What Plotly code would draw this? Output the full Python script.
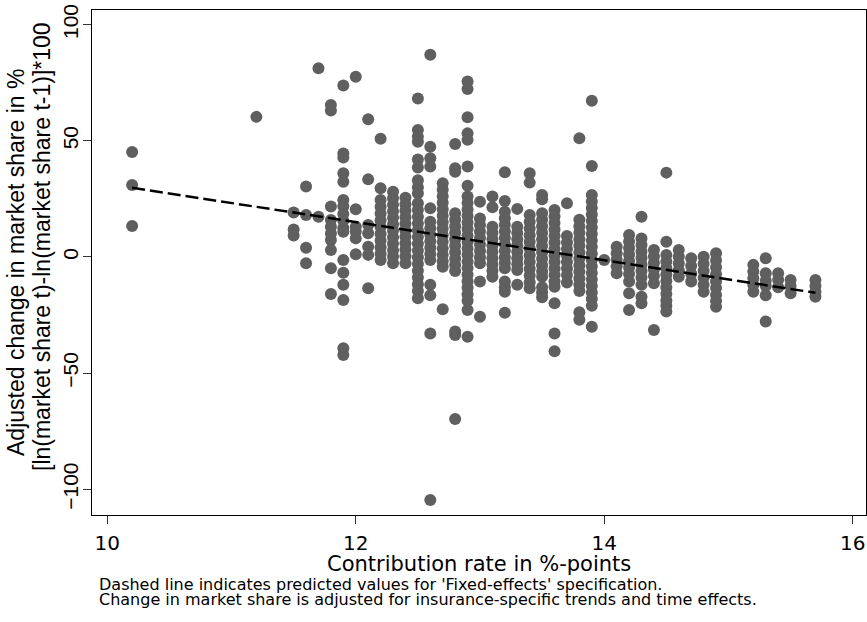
import plotly.graph_objects as go

# Contribution rates (x) and adjusted change in market share (y) per rate
rates = [10.2, 11.2, 11.5, 11.6, 11.7, 11.8, 11.9, 12.0, 12.1, 12.2, 12.3, 12.4,
         12.5, 12.6, 12.7, 12.8, 12.9, 13.0, 13.1, 13.2, 13.3, 13.4, 13.5, 13.6,
         13.7, 13.8, 13.9, 14.0, 14.1, 14.2, 14.3, 14.4, 14.5, 14.6, 14.7, 14.8,
         14.9, 15.2, 15.3, 15.4, 15.5, 15.7]

changes = [
    [45.2, 31.0, 13.3],
    [60.3],
    [19.1, 11.8, 9.2],
    [30.3, 18.1, 4.0, -2.7],
    [81.2, 17.3],
    [65.4, 63.0, 21.7, 15.9, 13.0, 10.1, 7.3, 3.0, -4.9, -15.9],
    [73.8, 44.5, 42.8, 36.0, 32.4, 24.5, 21.8, 18.5, 15.6, 12.5, 10.9, -1.3, -6.8, -12.0, -18.5, -39.3, -42.2],
    [77.6, 20.5, 13.0, 11.0, 8.0, 1.2],
    [59.3, 33.4, 13.8, 10.2, 4.4, 0.9, -13.5],
    [50.9, 29.6, 24.5, 21.6, 18.7, 15.8, 12.9, 10.0, 7.1, 4.2, 1.4, -1.3],
    [28.1, 25.3, 22.5, 19.7, 16.9, 14.1, 11.3, 8.5, 5.7, 2.9, 0.1, -2.7],
    [25.5, 22.7, 19.9, 17.1, 14.3, 11.5, 8.7, 5.9, 3.1, 0.3, -2.7],
    [68.2, 54.7, 51.8, 49.6, 42.0, 38.5, 33.0, 30.0, 27.4, 23.1, 20.2, 17.3, 14.4, 11.5, 8.6, 5.7, 2.8, -0.1, -3.0, -5.9, -8.8, -11.7, -14.6, -17.8],
    [87.0, 47.4, 42.5, 38.9, 21.0, 15.2, 12.4, 9.6, 6.8, 4.0, 1.3, -1.3, -12.0, -16.5, -32.9, -104.6],
    [31.7, 28.9, 26.1, 23.3, 20.5, 17.7, 14.9, 12.1, 9.3, 6.5, 3.7, 0.9, -1.8, -4.2, -22.5],
    [48.6, 38.2, 36.7, 18.8, 16.0, 13.2, 10.4, 7.6, 4.8, 2.0, -0.8, -3.5, -6.0, -32.1, -33.6, -69.7],
    [75.5, 72.3, 60.1, 53.2, 50.4, 38.9, 30.7, 26.0, 23.2, 20.4, 17.6, 14.8, 12.0, 9.2, 6.4, 3.6, 0.8, -2.0, -4.8, -7.6, -10.4, -13.2, -16.0, -18.8, -22.8, -34.3],
    [23.8, 16.6, 13.8, 11.0, 8.2, 5.4, 2.6, -0.2, -2.7, -10.6, -25.7],
    [26.0, 21.4, 13.0, 10.3, 7.6, 4.9, 2.2, -0.5, -3.2, -5.9, -8.5],
    [36.5, 24.1, 19.5, 16.7, 13.9, 11.1, 8.3, 5.5, 2.7, -0.1, -2.5, -4.9, -10.6, -13.0, -15.0, -24.0],
    [20.7, 13.0, 10.3, 7.6, 4.9, 2.2, -0.5, -3.1, -5.6, -12.0],
    [36.0, 32.0, 18.1, 15.2, 12.3, 9.4, 6.5, 3.6, 0.7, -2.2, -5.1, -8.0, -10.9, -13.5],
    [26.7, 24.8, 18.8, 16.0, 13.2, 10.4, 7.6, 4.8, 2.0, -0.8, -3.6, -6.2, -8.5, -13.0, -15.3, -17.3],
    [20.2, 17.4, 14.6, 11.8, 9.0, 6.2, 3.4, 0.6, -2.2, -5.0, -7.8, -10.5, -12.8, -19.9, -32.9, -40.6],
    [23.1, 9.0, 6.2, 3.4, 0.6, -2.2, -5.0, -7.8, -11.0],
    [51.1, 16.0, 13.2, 10.4, 7.6, 4.8, 2.0, -0.8, -3.6, -6.4, -9.2, -12.0, -14.6, -23.8, -27.0],
    [67.2, 39.2, 26.7, 23.9, 21.1, 18.3, 15.5, 12.7, 9.9, 7.1, 4.3, 1.5, -1.3, -4.1, -6.9, -9.7, -12.5, -15.3, -18.1, -21.0, -30.0],
    [-1.3],
    [4.4, 1.6, -1.2, -4.0, -7.0],
    [9.5, 6.7, 3.9, 1.1, -1.7, -4.5, -7.3, -10.6, -15.6, -22.8],
    [17.3, 8.0, 5.2, 2.4, -0.4, -3.2, -6.0, -8.8, -12.0, -17.1, -19.9],
    [3.0, 0.2, -2.6, -5.4, -8.2, -11.3, -31.4],
    [36.3, 6.6, 0.9, -1.9, -4.7, -7.5, -10.3, -13.1, -15.9, -18.7, -21.0, -23.5],
    [3.0, 0.1, -2.8, -5.7, -8.5],
    [-0.6, -3.9, -7.2, -10.6],
    [0.1, -2.9, -5.9, -8.9, -12.0, -15.0],
    [1.6, -1.4, -4.4, -7.4, -10.4, -13.4, -16.4, -19.0, -21.4],
    [-3.4, -6.3, -9.2, -12.1, -15.0],
    [-0.6, -7.0, -10.2, -12.5, -16.5, -27.8],
    [-7.0, -9.8, -13.0],
    [-9.9, -12.5, -15.6],
    [-9.9, -12.5, -15.0, -17.1],
]

# Predicted values ('Fixed-effects' specification)
fit_rates = [10.2, 15.7]
fit_pred = [29.8, -15.4]

x_ticks = [10, 12, 14, 16]
y_ticks = [-100, -50, 0, 50, 100]

xs, ys = [], []
for r, vals in zip(rates, changes):
    for v in vals:
        xs.append(r)
        ys.append(v)

FONT_H = "DejaVu Sans, Liberation Sans, Arial, sans-serif"      # horizontal texts
FONT_V = "Liberation Sans, Arial, Helvetica, sans-serif"         # rotated texts

fig = go.Figure()
fig.add_trace(go.Scatter(
    x=xs, y=ys, mode="markers",
    marker=dict(size=12, color="#5f5f5f", line=dict(width=0)),
    hoverinfo="skip",
))
fig.add_trace(go.Scatter(
    x=fit_rates, y=fit_pred, mode="lines",
    line=dict(color="black", width=2.5, dash="13px,5px"),
    hoverinfo="skip",
))

L, R, T, B = 92, 1, 10, 107
W, H = 867, 622
pw = W - L - R
ph = H - T - B

def px(xp):
    return (xp - L) / pw

def py(yp):
    return (H - B - yp) / ph

annotations = [
    dict(text="Contribution rate in %-points", x=px(479), y=py(564),
         font=dict(size=21, family=FONT_H)),
    dict(text="Adjusted change in market share in %", x=px(16), y=py(263),
         textangle=-90, font=dict(size=23, family=FONT_V)),
    dict(text="[ln(market share t)-ln(market share t-1)]*100", x=px(42), y=py(247),
         textangle=-90, font=dict(size=23, family=FONT_V)),
    dict(text="Dashed line indicates predicted values for 'Fixed-effects' specification.",
         x=px(97), y=py(584), xanchor="left", font=dict(size=16, family=FONT_H)),
    dict(text="Change in market share is adjusted for insurance-specific trends and time effects.",
         x=px(97), y=py(599), xanchor="left", font=dict(size=16, family=FONT_H)),
]
for a in annotations:
    a.update(xref="paper", yref="paper", showarrow=False)
    a.setdefault("xanchor", "center")
    a["yanchor"] = "middle"
    a["font"].update(color="black")

fig.update_layout(
    width=W, height=H,
    margin=dict(l=L, r=R, t=T, b=B, pad=0),
    paper_bgcolor="white", plot_bgcolor="white",
    showlegend=False,
    font=dict(family=FONT_V, color="black"),
    annotations=annotations,
    xaxis=dict(
        range=[9.877, 16.107], tickvals=x_ticks,
        ticks="outside", ticklen=8, tickwidth=1, tickcolor="#333",
        showline=True, linecolor="black", linewidth=1, mirror=True,
        showgrid=False, zeroline=False,
        tickfont=dict(size=20, family=FONT_H, color="black"),
        ticklabelstandoff=2, ticklabeloverflow="allow",
    ),
    yaxis=dict(
        range=[-111.06, 106.3], tickvals=y_ticks, tickangle=-90,
        ticks="outside", ticklen=8, tickwidth=1, tickcolor="#333",
        showline=True, linecolor="black", linewidth=1, mirror=True,
        showgrid=False, zeroline=False,
        tickfont=dict(size=21, family=FONT_V, color="black"),
        ticklabelstandoff=-3, ticklabeloverflow="allow",
    ),
)

fig.write_html(
    "out.html",
    config={"displayModeBar": False},
    post_script="document.body.style.margin='0px';document.body.style.overflow='hidden';",
)
